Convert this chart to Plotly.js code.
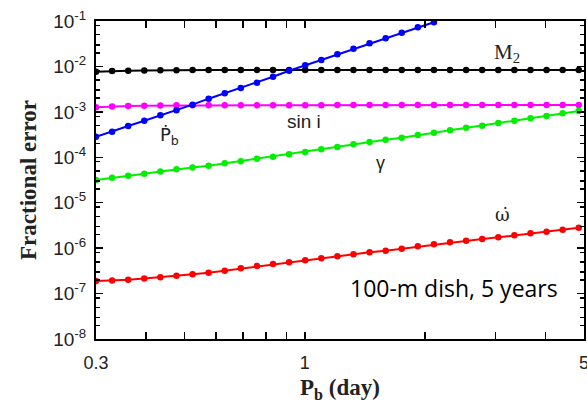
<!DOCTYPE html>
<html>
<head>
<meta charset="utf-8">
<script src="https://cdn.plot.ly/plotly-3.0.1.min.js"></script>
<style>html,body{margin:0;padding:0;background:#fff;}#chart{width:587px;height:403px;}</style>
</head>
<body>
<div id="chart"></div>
<script>
// Orbital period Pb (day), sampled points
var pb = [0.3, 0.3292, 0.3612, 0.3963, 0.4348, 0.4771, 0.5235, 0.5743, 0.6302, 0.6914,
          0.7586, 0.8324, 0.9133, 1.0021, 1.0995, 1.2064, 1.3236, 1.4523, 1.5935, 1.7484,
          1.9184, 2.1049, 2.3095, 2.5340, 2.7803, 3.0506, 3.3471, 3.6725, 4.0295, 4.4212, 4.8510];

var m2 = [7.6e-3, 7.9e-3, 8.0e-3, 8.1e-3, 8.2e-3, 8.2e-3, 8.3e-3, 8.3e-3, 8.3e-3, 8.3e-3,
          8.3e-3, 8.3e-3, 8.3e-3, 8.3e-3, 8.3e-3, 8.3e-3, 8.3e-3, 8.3e-3, 8.3e-3, 8.3e-3,
          8.3e-3, 8.3e-3, 8.3e-3, 8.3e-3, 8.3e-3, 8.3e-3, 8.3e-3, 8.3e-3, 8.3e-3, 8.3e-3, 8.3e-3];

var sini = [1.27e-3, 1.32e-3, 1.35e-3, 1.37e-3, 1.38e-3, 1.39e-3, 1.40e-3, 1.40e-3, 1.40e-3, 1.40e-3,
            1.40e-3, 1.40e-3, 1.40e-3, 1.40e-3, 1.40e-3, 1.41e-3, 1.41e-3, 1.41e-3, 1.41e-3, 1.41e-3,
            1.41e-3, 1.41e-3, 1.41e-3, 1.41e-3, 1.42e-3, 1.42e-3, 1.42e-3, 1.42e-3, 1.42e-3, 1.42e-3, 1.42e-3];

var pbdot = [2.84e-4, 3.66e-4, 4.89e-4, 6.39e-4, 8.40e-4, 1.08e-3, 1.44e-3, 1.95e-3, 2.56e-3, 3.35e-3,
             4.38e-3, 5.94e-3, 8.05e-3, 1.06e-2, 1.39e-2, 1.85e-2, 2.46e-2, 3.23e-2, 4.16e-2, 5.52e-2,
             7.27e-2, 9.36e-2];

var gamma = [3.16e-5, 3.56e-5, 3.94e-5, 4.35e-5, 4.86e-5, 5.44e-5, 5.96e-5, 6.53e-5, 7.38e-5, 8.17e-5,
             9.31e-5, 1.03e-4, 1.16e-4, 1.31e-4, 1.50e-4, 1.68e-4, 1.93e-4, 2.17e-4, 2.43e-4, 2.70e-4,
             3.10e-4, 3.48e-4, 3.93e-4, 4.48e-4, 4.96e-4, 5.69e-4, 6.39e-4, 7.21e-4, 8.11e-4, 9.29e-4, 1.04e-3];

var omdot = [1.89e-7, 1.94e-7, 2.02e-7, 2.15e-7, 2.28e-7, 2.46e-7, 2.66e-7, 2.88e-7, 3.19e-7, 3.60e-7,
             4.05e-7, 4.48e-7, 4.88e-7, 5.41e-7, 5.98e-7, 6.62e-7, 7.33e-7, 8.11e-7, 8.79e-7, 9.72e-7,
             1.10e-6, 1.22e-6, 1.35e-6, 1.46e-6, 1.59e-6, 1.73e-6, 1.92e-6, 2.12e-6, 2.30e-6, 2.55e-6, 2.82e-6];

var xTickVals = [0.3, 0.4, 0.5, 0.6, 0.7, 0.8, 0.9, 1, 2, 3, 4, 5];
var xTickText = ['0.3', '', '', '', '', '', '', '1', '', '', '', '5'];
var yTickVals = [1e-8, 1e-7, 1e-6, 1e-5, 1e-4, 1e-3, 1e-2, 1e-1];
var yTickText = ['10<sup>-8</sup>', '10<sup>-7</sup>', '10<sup>-6</sup>', '10<sup>-5</sup>',
                 '10<sup>-4</sup>', '10<sup>-3</sup>', '10<sup>-2</sup>', '10<sup>-1</sup>'];
var yMinorMant = [2, 3, 5, 8];

var yMinorVals = [];
for (var e = -8; e < -1; e++) {
  for (var j = 0; j < yMinorMant.length; j++) yMinorVals.push(yMinorMant[j] * Math.pow(10, e));
}

function series(x, y, color) {
  return {
    x: x, y: y, type: 'scatter', mode: 'lines+markers',
    line: {color: color, width: 2},
    marker: {color: color, size: 6.5},
    hoverinfo: 'skip', showlegend: false
  };
}

var data = [
  series(pb, m2, '#000000'),
  series(pb, sini, '#ff00ff'),
  series(pb.slice(0, pbdot.length), pbdot, '#0000ff'),
  series(pb, gamma, '#00f000'),
  series(pb, omdot, '#ff0000')
];

var sans = 'Liberation Sans, Arial, sans-serif';
var serif = 'Liberation Serif, Times New Roman, serif';

var layout = {
  width: 587, height: 403,
  margin: {l: 96, r: 3, t: 21, b: 64},
  paper_bgcolor: '#ffffff', plot_bgcolor: '#ffffff',
  showlegend: false,
  xaxis: {
    type: 'log', range: [Math.log10(0.3), Math.log10(5)],
    tickmode: 'array', tickvals: xTickVals, ticktext: xTickText,
    ticks: 'inside', ticklen: 7, tickwidth: 1.5, tickcolor: '#000',
    showline: true, linecolor: '#000', linewidth: 2, mirror: 'ticks',
    showgrid: false, zeroline: false,
    ticklabeloverflow: 'allow',
    ticklabelstandoff: 6,
    tickfont: {family: sans, size: 18, color: '#222'},
    title: {text: '<b>P<sub>b</sub> (day)</b>', font: {family: serif, size: 23, color: '#222'}, standoff: 12}
  },
  yaxis: {
    type: 'log', range: [-8, -1],
    tickmode: 'array', tickvals: yTickVals, ticktext: yTickText,
    ticks: 'inside', ticklen: 7, tickwidth: 1.5, tickcolor: '#000',
    showline: true, linecolor: '#000', linewidth: 2, mirror: 'ticks',
    showgrid: false, zeroline: false,
    minor: {tickmode: 'array', tickvals: yMinorVals, ticks: 'inside', ticklen: 4, tickwidth: 1.5, tickcolor: '#000', showgrid: false},
    ticklabelstandoff: 4,
    tickfont: {family: sans, size: 19, color: '#222'},
    title: {text: '<b>Fractional error</b>', font: {family: serif, size: 23, color: '#222'}, standoff: 10}
  },
  annotations: [
    {x: Math.log10(3.2), y: Math.log10(1.98e-2), xref: 'x', yref: 'y', text: 'M<sub>2</sub>', showarrow: false,
     font: {family: serif, size: 21, color: '#222'}},
    {x: Math.log10(0.457), y: Math.log10(3.0e-4), xref: 'x', yref: 'y', text: 'Ṗ<sub>b</sub>', showarrow: false,
     font: {family: 'DejaVu Sans, sans-serif', size: 18, color: '#222'}},
    {x: Math.log10(0.995), y: Math.log10(6.0e-4), xref: 'x', yref: 'y', text: 'sin i', showarrow: false,
     font: {family: sans, size: 19, color: '#222'}},
    {x: Math.log10(1.55), y: Math.log10(7.5e-5), xref: 'x', yref: 'y', text: 'γ', showarrow: false,
     font: {family: sans, size: 18, color: '#222'}},
    {x: Math.log10(3.13), y: Math.log10(5.4e-6), xref: 'x', yref: 'y', text: 'ω̇', showarrow: false,
     font: {family: 'DejaVu Serif, serif', size: 18, color: '#222'}},
    {x: Math.log10(2.36), y: Math.log10(1.33e-7), xref: 'x', yref: 'y', text: '100-m dish, 5 years', showarrow: false,
     font: {family: 'Open Sans, sans-serif', size: 23, color: '#000'}}
  ]
};

Plotly.newPlot('chart', data, layout, {staticPlot: true, displayModeBar: false});
</script>
</body>
</html>
